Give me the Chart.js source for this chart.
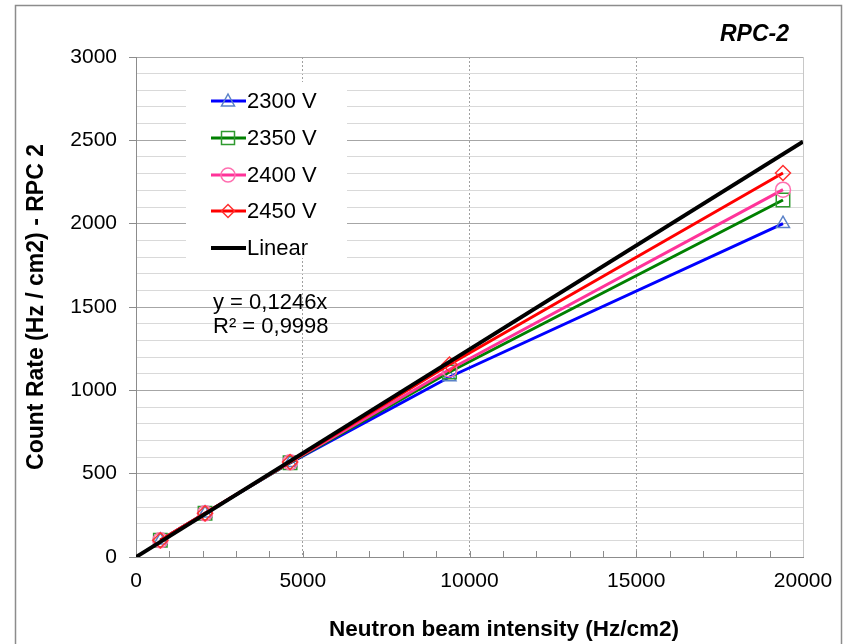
<!DOCTYPE html>
<html>
<head>
<meta charset="utf-8">
<script src="https://cdn.jsdelivr.net/npm/chart.js@4"></script>
<style>
  body { margin: 0; background: #fff; }
  canvas { display: block; }
</style>
</head>
<body>
<canvas id="rpcChart" width="848" height="644"></canvas>
<script>
// intensité du faisceau (Hz/cm2)
const beamIntensity = [730, 2070, 4620, 9400, 19400];

// taux de comptage par tension
const rate2300 = [100, 262, 565, 1080, 2000];
const rate2350 = [100, 262, 566, 1110, 2142];
const rate2400 = [100, 262, 568, 1125, 2204];
const rate2450 = [100, 262, 570, 1155, 2304];

// droite de tendance (y = 0,1246x)
const linearX = [0, 20000];
const linearY = [0, 2492];

const seriesLabels = ['2300 V', '2350 V', '2400 V', '2450 V', 'Linear'];
const lineColors = ['#0000ff', '#008000', '#ff3399', '#ff0000', '#000000'];
const markerColors = ['#5b82c8', '#2f9a2f', '#ff6fb0', '#ff3030', '#000000'];
const markerStyles = ['triangle', 'rect', 'circle', 'rectRot', false];

const yTickLabels = ['0', '500', '1000', '1500', '2000', '2500', '3000'];
const xTickLabels = ['0', '5000', '10000', '15000', '20000'];

const FONT = "'Liberation Sans', Arial, sans-serif";

function toPoints(xs, ys) {
    return xs.map((x, i) => ({ x: x, y: ys[i] }));
}

const seriesData = [rate2300, rate2350, rate2400, rate2450];

const datasets = seriesData.map((vals, i) => ({
    label: seriesLabels[i],
    data: toPoints(beamIntensity, vals),
    showLine: true,
    borderColor: lineColors[i],
    borderWidth: 3,
    pointStyle: markerStyles[i],
    pointRadius: markerStyles[i] === 'rect' ? 9.5 : 7.5,
    pointBorderColor: markerColors[i],
    pointBackgroundColor: 'rgba(0,0,0,0)',
    pointBorderWidth: 1.5,
    tension: 0,
    order: 4 - i
}));

datasets.push({
    label: seriesLabels[4],
    data: toPoints(linearX, linearY),
    showLine: true,
    borderColor: '#000',
    borderWidth: 4,
    pointRadius: 0,
    tension: 0,
    order: -1
});

// cadre extérieur, titres, légende, équation
const decorations = {
    id: 'decorations',
    beforeDraw(chart) {
        const c = chart.ctx;
        c.save();
        c.fillStyle = '#fff';
        c.fillRect(0, 0, chart.width, chart.height);
        c.strokeStyle = '#8c8c8c';
        c.lineWidth = 1.5;
        c.strokeRect(15.5, 5.5, 826, 700);
        c.restore();
    },
    beforeDatasetsDraw(chart) {
        const c = chart.ctx;
        const xs = chart.scales.x;
        const bottom = chart.chartArea.bottom;
        c.save();
        c.strokeStyle = '#8c8c8c';
        c.lineWidth = 1;
        for (let v = 1000; v < 20000; v += 1000) {
            const px = Math.round(xs.getPixelForValue(v)) + 0.5;
            c.beginPath();
            c.moveTo(px, bottom);
            c.lineTo(px, bottom - 6);
            c.stroke();
        }
        c.restore();
    },
    afterDraw(chart) {
        const c = chart.ctx;
        c.save();

        // titre
        c.fillStyle = '#000';
        c.font = 'italic bold 23px ' + FONT;
        c.textAlign = 'right';
        c.textBaseline = 'alphabetic';
        c.fillText('RPC-2', 789, 41);

        // titre de l'axe X (décalé vers la droite comme dans l'original)
        c.font = 'bold 22.5px ' + FONT;
        c.textAlign = 'center';
        c.textBaseline = 'middle';
        c.fillText('Neutron beam intensity (Hz/cm2)', 504, 630);

        // légende
        c.fillStyle = '#fff';
        c.fillRect(186, 82, 161, 176);
        const rows = [101, 138, 175, 211, 248];
        c.font = '22px ' + FONT;
        c.textAlign = 'left';
        c.textBaseline = 'middle';
        seriesLabels.forEach((lab, i) => {
            const y = rows[i];
            c.strokeStyle = lineColors[i];
            c.lineWidth = i === 4 ? 4 : 3;
            c.beginPath();
            c.moveTo(211, y);
            c.lineTo(246, y);
            c.stroke();
            if (markerStyles[i]) {
                c.strokeStyle = markerColors[i];
                c.lineWidth = 1.5;
                c.beginPath();
                const mx = 228;
                if (markerStyles[i] === 'triangle') {
                    c.moveTo(mx, y - 7);
                    c.lineTo(mx + 6.5, y + 5);
                    c.lineTo(mx - 6.5, y + 5);
                    c.closePath();
                } else if (markerStyles[i] === 'rect') {
                    c.rect(mx - 6.5, y - 6.5, 13, 13);
                } else if (markerStyles[i] === 'circle') {
                    c.arc(mx, y, 7, 0, Math.PI * 2);
                } else {
                    c.moveTo(mx, y - 6.5);
                    c.lineTo(mx + 6.5, y);
                    c.lineTo(mx, y + 6.5);
                    c.lineTo(mx - 6.5, y);
                    c.closePath();
                }
                c.stroke();
            }
            c.fillStyle = '#000';
            c.fillText(lab, 247, y + 1);
        });

        // équation de la droite
        c.font = '22px ' + FONT;
        c.fillText('y = 0,1246x', 213, 303);
        c.fillText('R\u00b2 = 0,9998', 213, 327);
        c.restore();
    }
};

const ctx = document.getElementById('rpcChart').getContext('2d');

const rpcChart = new Chart(ctx, {
    type: 'scatter',
    data: { datasets: datasets },
    options: {
        responsive: false,
        animation: false,
        layout: { padding: { left: 0, top: 57, right: 45, bottom: 0 } },
        plugins: {
            legend: { display: false },
            tooltip: { enabled: false }
        },
        scales: {
            x: {
                type: 'linear',
                min: 0,
                max: 20000,
                afterFit(scale) { scale.height = 87; },
                ticks: {
                    stepSize: 1000,
                    autoSkip: false,
                    maxRotation: 0,
                    padding: 12,
                    color: '#000',
                    font: { family: FONT, size: 21 },
                    callback: (v) => (v % 5000 === 0 ? xTickLabels[v / 5000] : '')
                },
                grid: {
                    drawTicks: false,
                    lineWidth: 1,
                    color: (c) => {
                        const v = c.tick ? c.tick.value : 0;
                        if (v === 20000) return '#c8c8c8';
                        if (v > 0 && v % 5000 === 0) return '#a0a0a0';
                        return 'rgba(0,0,0,0)';
                    }
                },
                border: {
                    color: '#8c8c8c',
                    width: 1,
                    dash: (c) => (c.tick && c.tick.value === 20000 ? [] : [2, 2])
                }
            },
            y: {
                type: 'linear',
                min: 0,
                max: 3000,
                afterFit(scale) { scale.width = 136; },
                ticks: {
                    stepSize: 100,
                    maxTicksLimit: 100,
                    autoSkip: false,
                    padding: 12,
                    color: '#000',
                    font: { family: FONT, size: 21 },
                    callback: (v) => (v % 500 === 0 ? yTickLabels[v / 500] : '')
                },
                grid: {
                    tickLength: 7,
                    lineWidth: 1,
                    color: (c) => {
                        const v = c.tick ? c.tick.value : 0;
                        return v % 500 === 0 ? '#a6a6a6' : '#d9d9d9';
                    },
                    tickColor: (c) => {
                        const v = c.tick ? c.tick.value : 0;
                        return v % 500 === 0 ? '#8c8c8c' : 'rgba(0,0,0,0)';
                    }
                },
                border: { color: '#8c8c8c', width: 1 },
                title: {
                    display: true,
                    text: 'Count Rate (Hz / cm2) - RPC 2',
                    color: '#000',
                    font: { family: FONT, size: 23, weight: 'bold' },
                    padding: { top: 23, bottom: 0 }
                }
            }
        }
    },
    plugins: [decorations]
});
</script>
</body>
</html>
